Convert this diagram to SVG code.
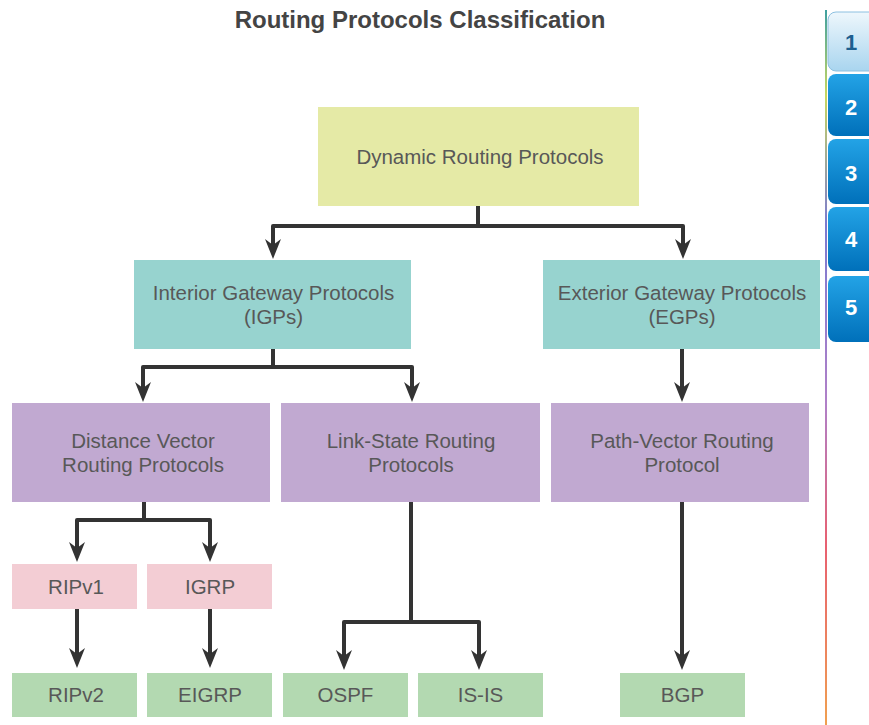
<svg xmlns="http://www.w3.org/2000/svg" width="869" height="725" viewBox="0 0 869 725">
<style>
.t{font-family:"Liberation Sans",Arial,sans-serif;font-size:20.5px;fill:#585858;text-anchor:middle}
.title{font-family:"Liberation Sans",Arial,sans-serif;font-size:24px;font-weight:bold;fill:#444;text-anchor:middle}
.c{fill:none;stroke:#333;stroke-width:4;stroke-linejoin:round}
.y{fill:#e5eaa6}.tl{fill:#97d3cf}.p{fill:#c1a9d1}.pk{fill:#f3cdd4}.g{fill:#b3d9b1}
.tab{font-family:"Liberation Sans",Arial,sans-serif;font-size:22px;font-weight:bold;text-anchor:middle;fill:#fff}
</style>
<defs>
<marker id="ah" viewBox="0 0 20 16" refX="10" refY="8" markerWidth="20" markerHeight="16" markerUnits="userSpaceOnUse" orient="auto">
<path d="M0,0 L20,8 L0,16 L6,8 Z" fill="#333"/>
</marker>
<linearGradient id="side" x1="0" y1="0" x2="0" y2="1">
<stop offset="0" stop-color="#3fa0a0"/>
<stop offset="0.12" stop-color="#c8d860"/>
<stop offset="0.3" stop-color="#7a7ad0"/>
<stop offset="0.55" stop-color="#b080c8"/>
<stop offset="0.75" stop-color="#e86070"/>
<stop offset="1" stop-color="#f0a050"/>
</linearGradient>
<linearGradient id="tab1" x1="0" y1="0" x2="0" y2="1">
<stop offset="0" stop-color="#eef7fc"/>
<stop offset="1" stop-color="#a9d5ef"/>
</linearGradient>
<linearGradient id="tabb" x1="0" y1="0" x2="0" y2="1">
<stop offset="0" stop-color="#23a3e6"/>
<stop offset="1" stop-color="#0070ba"/>
</linearGradient>
</defs>

<text class="title" x="420" y="28">Routing Protocols Classification</text>

<g id="sidebar">
<rect x="825" y="10" width="2" height="715" fill="url(#side)"/>
<g id="tab-1"><rect x="828" y="12" width="50" height="59" rx="8" fill="url(#tab1)" stroke="#8cc0e0" stroke-width="1"/><text class="tab" x="851" y="50" style="fill:#1d5f8f">1</text></g>
<g id="tab-2"><rect x="828" y="74" width="50" height="62" rx="8" fill="url(#tabb)"/><text class="tab" x="851" y="115">2</text></g>
<g id="tab-3"><rect x="828" y="139" width="50" height="65" rx="8" fill="url(#tabb)"/><text class="tab" x="851" y="181">3</text></g>
<g id="tab-4"><rect x="828" y="207" width="50" height="64" rx="8" fill="url(#tabb)"/><text class="tab" x="851" y="247">4</text></g>
<g id="tab-5"><rect x="828" y="276" width="50" height="66" rx="8" fill="url(#tabb)"/><text class="tab" x="851" y="315">5</text></g>
</g>

<g id="connectors">
<path class="c" d="M478,206 V226"/>
<path class="c" d="M478,226 H273 V249" marker-end="url(#ah)"/>
<path class="c" d="M478,226 H683 V249" marker-end="url(#ah)"/>
<path class="c" d="M273,349 V367"/>
<path class="c" d="M273,367 H143 V392" marker-end="url(#ah)"/>
<path class="c" d="M273,367 H412 V392" marker-end="url(#ah)"/>
<path class="c" d="M682,349 V392" marker-end="url(#ah)"/>
<path class="c" d="M144,502 V520"/>
<path class="c" d="M144,520 H77 V552" marker-end="url(#ah)"/>
<path class="c" d="M144,520 H210 V552" marker-end="url(#ah)"/>
<path class="c" d="M77,609 V658" marker-end="url(#ah)"/>
<path class="c" d="M210,609 V658" marker-end="url(#ah)"/>
<path class="c" d="M411,502 V622"/>
<path class="c" d="M411,622 H344 V660" marker-end="url(#ah)"/>
<path class="c" d="M411,622 H479 V660" marker-end="url(#ah)"/>
<path class="c" d="M682,502 V660" marker-end="url(#ah)"/>
</g>

<g id="dynamic"><rect class="y" x="318" y="107" width="321" height="99"/><text class="t" x="480" y="164">Dynamic Routing Protocols</text></g>
<g id="igp"><rect class="tl" x="134" y="260" width="277" height="89"/><text class="t" x="273.5" y="300">Interior Gateway Protocols</text><text class="t" x="273.5" y="324">(IGPs)</text></g>
<g id="egp"><rect class="tl" x="543" y="260" width="277" height="89"/><text class="t" x="682" y="300">Exterior Gateway Protocols</text><text class="t" x="682" y="324">(EGPs)</text></g>
<g id="dv"><rect class="p" x="12" y="403" width="258" height="99"/><text class="t" x="143" y="448">Distance Vector</text><text class="t" x="143" y="472">Routing Protocols</text></g>
<g id="ls"><rect class="p" x="281" y="403" width="259" height="99"/><text class="t" x="411" y="448">Link-State Routing</text><text class="t" x="411" y="472">Protocols</text></g>
<g id="pv"><rect class="p" x="551" y="403" width="258" height="99"/><text class="t" x="682" y="448">Path-Vector Routing</text><text class="t" x="682" y="472">Protocol</text></g>
<g id="ripv1"><rect class="pk" x="12" y="564" width="125" height="45"/><text class="t" x="76" y="593.5">RIPv1</text></g>
<g id="igrp"><rect class="pk" x="147" y="564" width="125" height="45"/><text class="t" x="210" y="593.5">IGRP</text></g>
<g id="ripv2"><rect class="g" x="12" y="673" width="125" height="44"/><text class="t" x="76" y="702">RIPv2</text></g>
<g id="eigrp"><rect class="g" x="147" y="673" width="125" height="44"/><text class="t" x="210" y="702">EIGRP</text></g>
<g id="ospf"><rect class="g" x="283" y="673" width="125" height="44"/><text class="t" x="345.5" y="702">OSPF</text></g>
<g id="isis"><rect class="g" x="418" y="673" width="125" height="44"/><text class="t" x="480.5" y="702">IS-IS</text></g>
<g id="bgp"><rect class="g" x="620" y="673" width="125" height="44"/><text class="t" x="682.5" y="702">BGP</text></g>
</svg>
